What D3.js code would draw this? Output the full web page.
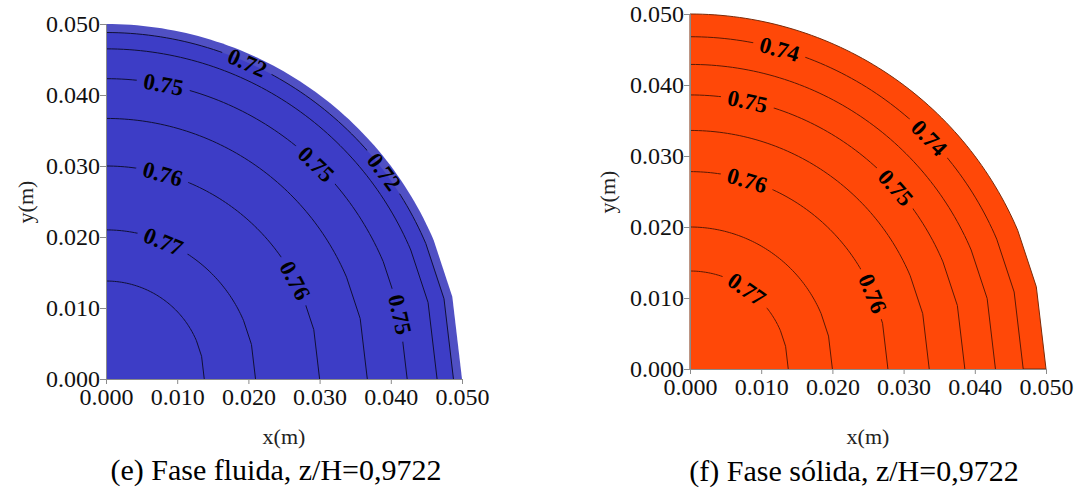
<!DOCTYPE html>
<html><head><meta charset="utf-8">
<script src="https://cdn.jsdelivr.net/npm/d3@7"></script>
<style>body{margin:0;background:#fff}svg{display:block}</style>
</head><body>
<svg id="c" width="1080" height="488"></svg>
<script>
// ---------- data ----------
const tickValues = [0, 0.01, 0.02, 0.03, 0.04, 0.05];
const tickLabels = ["0.000", "0.010", "0.020", "0.030", "0.040", "0.050"];
const domainRadius = 0.05;
const facetAngles = [0, 13.4, 23.0];          // mesh vertices on the lower part of the wall (deg)

// (e) fluid phase
const fluidRadii      = [0.0138, 0.0210, 0.0300, 0.0367, 0.0423, 0.0465, 0.0488];
const fluidLabelIdx   = [1, 2, 2, 4, 4, 4, 6, 6];
const fluidLabelText  = ["0.77", "0.76", "0.76", "0.75", "0.75", "0.75", "0.72", "0.72"];
const fluidLabelAngle = [67.4, 74.6, 27.6, 79.0, 45.7, 12.4, 66.0, 36.8];

// (f) solid phase
const solidRadii      = [0.0138, 0.0200, 0.0278, 0.0336, 0.0386, 0.0429, 0.0468];
const solidLabelIdx   = [0, 2, 2, 4, 4, 6, 6];
const solidLabelText  = ["0.77", "0.76", "0.76", "0.75", "0.75", "0.74", "0.74"];
const solidLabelAngle = [54.7, 73.2, 22.5, 77.9, 41.5, 74.4, 44.1];

// ---------- drawing ----------
const svg = d3.select("#c");
const serif = "'Liberation Serif','Times New Roman',Times,serif";

function shapePoints(r) {
  const pts = [];
  facetAngles.forEach(a => pts.push([r * Math.cos(a * Math.PI / 180), r * Math.sin(a * Math.PI / 180)]));
  const a0 = facetAngles[facetAngles.length - 1];
  for (let a = a0 + 1; a <= 90.0001; a += 1) {
    pts.push([r * Math.cos(a * Math.PI / 180), r * Math.sin(a * Math.PI / 180)]);
  }
  return pts;
}

function panel(cfg) {
  const g = svg.append("g");
  const x = d3.scaleLinear().domain([0, 0.05]).range([cfg.x0, cfg.x1]);
  const y = d3.scaleLinear().domain([0, 0.05]).range([cfg.y0, cfg.y1]);
  const line = d3.line().x(d => x(d[0])).y(d => y(d[1]));
  const closed = r => line([[0, 0]].concat(shapePoints(r))) + "Z";

  // fill
  g.append("path").attr("d", closed(domainRadius))
    .attr("fill", cfg.outerFill).attr("stroke", cfg.edge).attr("stroke-width", cfg.edgeW);
  g.append("path").attr("d", closed(cfg.radii[cfg.radii.length - 1]))
    .attr("fill", cfg.fill);

  // label geometry
  const labels = cfg.labelText.map((t, i) => {
    const r = cfg.radii[cfg.labelIdx[i]];
    const th = cfg.labelAngle[i] * Math.PI / 180;
    const px = x(r * Math.cos(th)), py = y(r * Math.sin(th));
    const sx = Math.abs(x(1) - x(0)), sy = Math.abs(y(1) - y(0));
    const rot = Math.atan2(Math.cos(th) * sy, Math.sin(th) * sx) * 180 / Math.PI;
    return {t, px, py, rot};
  });

  // mask to break contour lines under labels
  const mid = "m" + cfg.id;
  const mask = svg.append("defs").append("mask").attr("id", mid)
    .attr("maskUnits", "userSpaceOnUse").attr("x", 0).attr("y", 0).attr("width", 1080).attr("height", 488);
  mask.append("rect").attr("x", 0).attr("y", 0).attr("width", 1080).attr("height", 488).attr("fill", "#fff");
  labels.forEach(l => {
    mask.append("rect").attr("x", -cfg.gap / 2).attr("y", -7).attr("width", cfg.gap).attr("height", 14)
      .attr("fill", "#000").attr("transform", `translate(${l.px},${l.py}) rotate(${l.rot})`);
  });

  const cg = g.append("g").attr("mask", `url(#${mid})`);
  cfg.radii.forEach(r => {
    cg.append("path").attr("d", line(shapePoints(r)))
      .attr("fill", "none").attr("stroke", cfg.lineColor).attr("stroke-width", 1);
  });

  labels.forEach(l => {
    g.append("text").attr("transform", `translate(${l.px},${l.py}) rotate(${l.rot})`)
      .attr("text-anchor", "middle").attr("dy", "0.35em")
      .style("font-family", serif).style("font-weight", "bold").style("font-size", "23px")
      .attr("fill", "#000").text(l.t);
  });

  // axes
  const ax = g.append("g").attr("transform", `translate(0,${cfg.y0})`)
    .call(d3.axisBottom(x).tickValues(tickValues).tickFormat((d, i) => tickLabels[i]).tickSize(5).tickPadding(4));
  const ay = g.append("g").attr("transform", `translate(${cfg.x0},0)`)
    .call(d3.axisLeft(y).tickValues(tickValues).tickFormat((d, i) => tickLabels[i]).tickSize(6).tickPadding(0));
  [ax, ay].forEach(a => {
    a.selectAll("path.domain").attr("stroke", "#8a8a8a");
    a.selectAll(".tick line").attr("stroke", "#8a8a8a");
    a.selectAll("text").style("font-family", serif).style("font-size", "24px").attr("fill", "#111");
  });

  g.append("text").attr("x", (cfg.x0 + cfg.x1) / 2).attr("y", cfg.xLabelY).attr("text-anchor", "middle")
    .style("font-family", serif).style("font-size", "22px").attr("fill", "#222").text("x(m)");
  g.append("text").attr("transform", `translate(${cfg.yLabelX},${cfg.yLabelY}) rotate(-90)`)
    .attr("text-anchor", "middle").style("font-family", serif).style("font-size", "22px")
    .attr("fill", "#222").text("y(m)");
  g.append("text").attr("x", cfg.capX).attr("y", cfg.capY).attr("text-anchor", "middle")
    .style("font-family", serif).style("font-size", "30px").attr("fill", "#000").text(cfg.caption);
}

panel({
  id: "e", x0: 106, x1: 462, y0: 379, y1: 24,
  fill: "#3d3dc6", outerFill: "#5050c4", edge: "none", edgeW: 0, lineColor: "#101035", gap: 54,
  radii: fluidRadii, labelIdx: fluidLabelIdx, labelText: fluidLabelText, labelAngle: fluidLabelAngle,
  xLabelY: 444, yLabelX: 33, yLabelY: 202, capX: 276, capY: 480,
  caption: "(e) Fase fluida, z/H=0,9722"
});
panel({
  id: "f", x0: 690, x1: 1046, y0: 369, y1: 14,
  fill: "#ff4808", outerFill: "#ff4808", edge: "#7a2a08", edgeW: 1, lineColor: "#5a1a05", gap: 54,
  radii: solidRadii, labelIdx: solidLabelIdx, labelText: solidLabelText, labelAngle: solidLabelAngle,
  xLabelY: 444, yLabelX: 615, yLabelY: 192, capX: 854, capY: 481,
  caption: "(f) Fase sólida, z/H=0,9722"
});
</script>
</body></html>
